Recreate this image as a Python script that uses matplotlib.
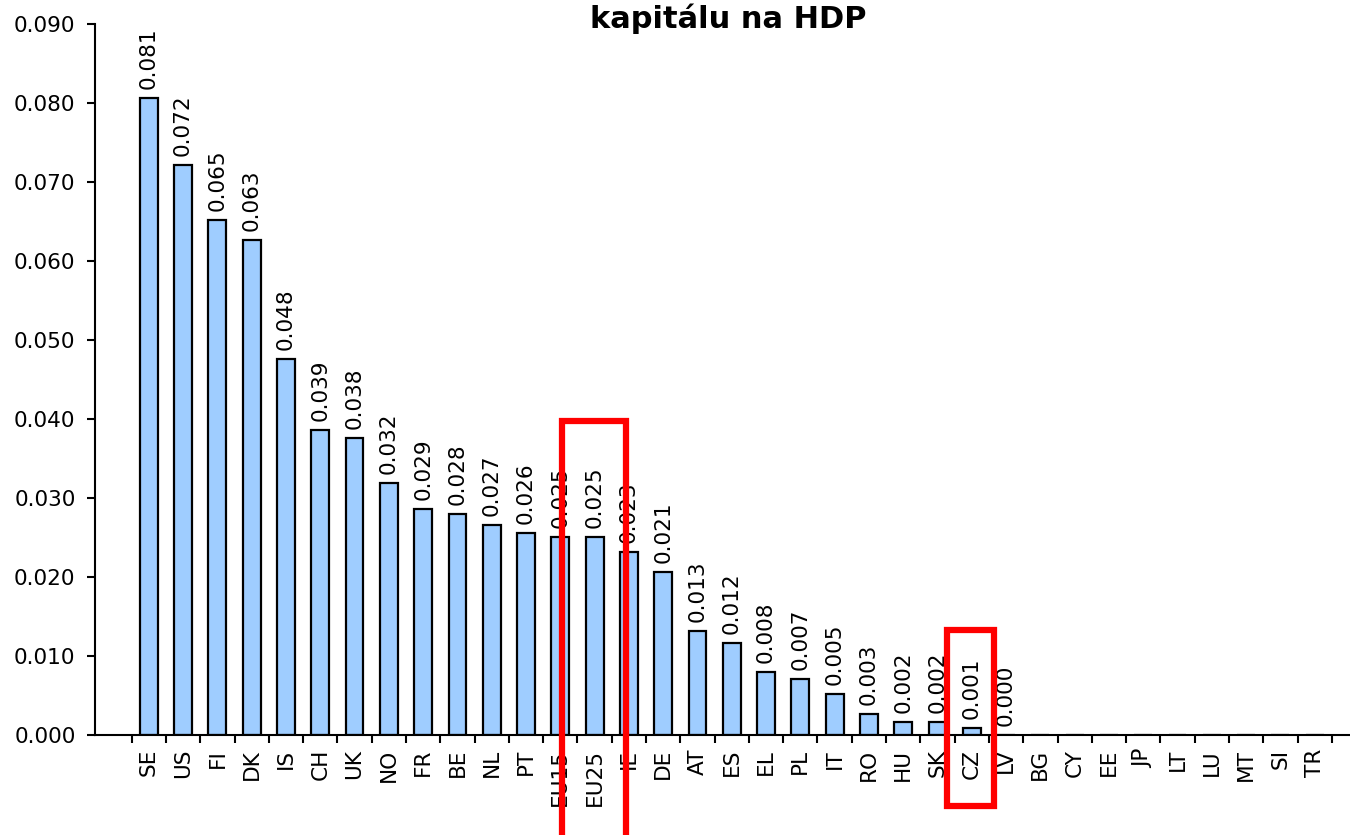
import numpy as np
import matplotlib
matplotlib.use("Agg")
import matplotlib.pyplot as plt
from matplotlib.patches import Rectangle

categories = ["SE", "US", "FI", "DK", "IS", "CH", "UK", "NO", "FR", "BE", "NL", "PT",
              "EU15", "EU25", "IE", "DE", "AT", "ES", "EL", "PL", "IT", "RO", "HU", "SK",
              "CZ", "LV", "BG", "CY", "EE", "JP", "LT", "LU", "MT", "SI", "TR"]
values = [0.0806, 0.0721, 0.0652, 0.0626, 0.0476, 0.0386, 0.0376, 0.0319, 0.0286, 0.0280,
          0.0266, 0.0256, 0.0251, 0.0251, 0.0232, 0.0206, 0.0132, 0.0116, 0.0080, 0.0071,
          0.0052, 0.0026, 0.0016, 0.0016, 0.0009, 0.0000,
          np.nan, np.nan, np.nan, np.nan, np.nan, np.nan, np.nan, np.nan, np.nan]
title = "kapitálu na HDP"
highlight = ["EU25", "CZ"]

FS = 15.6
plt.rcParams['font.family'] = ['DejaVu Sans']
fig = plt.figure(figsize=(13.5, 8.35), dpi=100)
ax = fig.add_axes([95/1350, 1-735/835, 1-95/1350, (735-24)/835])

x = np.arange(len(categories))
vals = np.array(values, dtype=float)
ax.bar(x, np.nan_to_num(vals), width=0.52, color="#9FCDFF", edgecolor="black",
       linewidth=1.6, zorder=2)
for xi, v in zip(x, vals):
    if np.isnan(v):
        continue
    ax.annotate(f"{v:.3f}", (xi, v), xytext=(0, 6.5), textcoords="offset points",
                rotation=90, ha="center", va="bottom", fontsize=FS)

ax.set_xlim(-1.57, 35.03)
ax.set_ylim(0, 0.09)
yt = np.arange(0, 0.0901, 0.01)
ax.set_yticks(yt)
ax.set_yticklabels([f"{t:.3f}" for t in yt], fontsize=FS)
ax.tick_params(axis="y", length=6, width=1.5, pad=8, direction="out")

ax.set_xticks(x)
ax.set_xticklabels(categories, rotation=90, fontsize=FS, va="top")
ax.set_xticks(np.arange(-0.5, len(categories), 1.0), minor=True)
ax.tick_params(axis="x", which="major", length=0, pad=10)
ax.tick_params(axis="x", which="minor", length=6, width=1.5, direction="out")

for s in ["top", "right"]:
    ax.spines[s].set_visible(False)
ax.spines["left"].set_linewidth(1.5)
ax.spines["bottom"].set_linewidth(1.5)

fig.text(728/1350, 1-3/835, title, ha="center", va="top", fontsize=22, fontweight="bold")

# red highlight boxes
i_eu = categories.index("EU25")
ax.add_patch(Rectangle((i_eu - 0.94, -0.03), 1.87, 0.03 + 0.0397, fill=False,
                       edgecolor="#FF0000", linewidth=4.5, clip_on=False, zorder=5))
i_cz = categories.index("CZ")
ax.add_patch(Rectangle((i_cz - 0.71, -0.00905), 1.37, 0.00905 + 0.01335, fill=False,
                       edgecolor="#FF0000", linewidth=4.5, clip_on=False, zorder=5))

fig.savefig("out.png", dpi=100)
